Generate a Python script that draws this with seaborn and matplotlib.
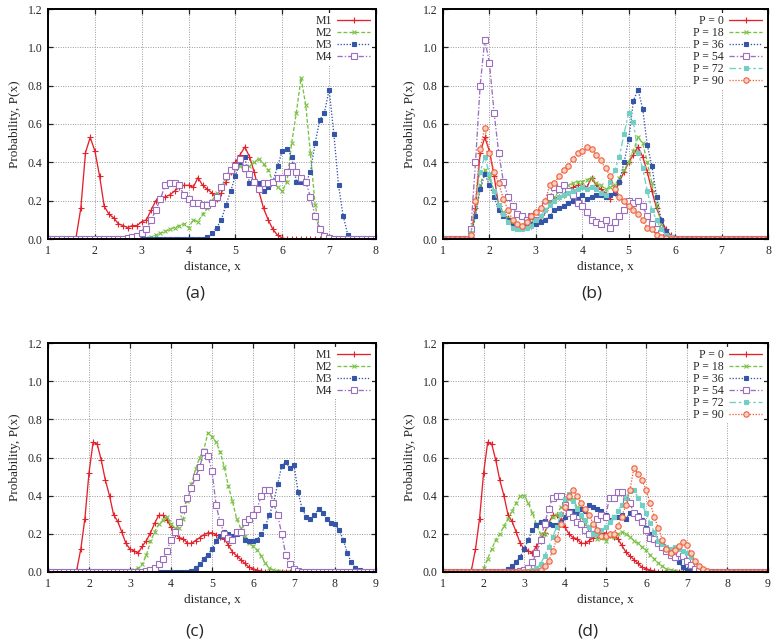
import matplotlib
matplotlib.use("Agg")
import matplotlib.pyplot as plt
import seaborn as sns
import numpy as np

STEP = 0.1

# ---- panel (a): x 1..8 ; each series = first x listed, values every 0.1, zero elsewhere
m1_a_start = 1.5
m1_a = [0, 0.01, 0.16, 0.45, 0.53, 0.46, 0.33, 0.17, 0.13, 0.11, 0.08, 0.07, 0.06, 0.07, 0.07,
        0.09, 0.10, 0.15, 0.20, 0.21, 0.22, 0.23, 0.25, 0.27, 0.28, 0.28, 0.27, 0.32, 0.28, 0.26,
        0.24, 0.21, 0.24, 0.30, 0.35, 0.40, 0.44, 0.48, 0.43, 0.35, 0.25, 0.16, 0.10, 0.05, 0.02, 0.005]
m2_a_start = 3.0
m2_a = [0, 0.005, 0.01, 0.02, 0.03, 0.04, 0.05, 0.06, 0.07, 0.08, 0.06, 0.10, 0.09, 0.13, 0.16,
        0.20, 0.24, 0.27, 0.32, 0.35, 0.37, 0.38, 0.36, 0.38, 0.40, 0.42, 0.39, 0.36, 0.30, 0.27,
        0.25, 0.30, 0.50, 0.66, 0.84, 0.70, 0.45, 0.18, 0.05, 0.02, 0.005]
m3_a_start = 4.3
m3_a = [0, 0.01, 0.03, 0.06, 0.10, 0.18, 0.25, 0.33, 0.40, 0.43, 0.29, 0.30, 0.29, 0.25, 0.27,
        0.30, 0.38, 0.46, 0.47, 0.43, 0.30, 0.30, 0.29, 0.35, 0.50, 0.62, 0.66, 0.78, 0.55, 0.28,
        0.12, 0.02]
m4_a_start = 2.6
m4_a = [0, 0.005, 0.01, 0.015, 0.03, 0.05, 0.10, 0.15, 0.21, 0.28, 0.29, 0.29, 0.28, 0.23, 0.21,
        0.19, 0.19, 0.18, 0.18, 0.19, 0.22, 0.27, 0.33, 0.36, 0.38, 0.42, 0.37, 0.34, 0.30, 0.26,
        0.29, 0.29, 0.30, 0.32, 0.32, 0.35, 0.38, 0.35, 0.32, 0.30, 0.22, 0.12, 0.05, 0.015, 0.005]

# ---- panel (b): x 1..8 (P = 0 is the M1 curve of panel a)
p18_b_start = 1.5
p18_b = [0, 0.02, 0.12, 0.28, 0.36, 0.32, 0.25, 0.18, 0.14, 0.11, 0.08, 0.07, 0.07, 0.08, 0.09,
         0.11, 0.13, 0.16, 0.20, 0.22, 0.25, 0.27, 0.28, 0.29, 0.30, 0.30, 0.31, 0.32, 0.29, 0.28,
         0.26, 0.27, 0.28, 0.32, 0.36, 0.40, 0.46, 0.53, 0.50, 0.40, 0.29, 0.18, 0.08, 0.03, 0.01]
p36_b_start = 1.5
p36_b = [0, 0.02, 0.12, 0.26, 0.34, 0.28, 0.22, 0.15, 0.12, 0.10, 0.07, 0.06, 0.06, 0.07, 0.08,
         0.08, 0.09, 0.10, 0.12, 0.15, 0.16, 0.17, 0.19, 0.20, 0.21, 0.23, 0.21, 0.22, 0.23, 0.23,
         0.22, 0.23, 0.24, 0.30, 0.40, 0.52, 0.72, 0.78, 0.68, 0.49, 0.38, 0.22, 0.10, 0.04, 0.01]
p54_b_start = 1.5
p54_b = [0, 0.05, 0.40, 0.80, 1.04, 0.92, 0.66, 0.45, 0.30, 0.22, 0.17, 0.13, 0.12, 0.10, 0.12,
         0.13, 0.14, 0.18, 0.22, 0.27, 0.26, 0.28, 0.25, 0.23, 0.19, 0.17, 0.14, 0.10, 0.09, 0.08,
         0.10, 0.06, 0.09, 0.12, 0.15, 0.20, 0.19, 0.20, 0.17, 0.12, 0.08, 0.05, 0.03, 0.01]
p72_b_start = 1.5
p72_b = [0, 0.03, 0.20, 0.35, 0.43, 0.34, 0.25, 0.18, 0.13, 0.09, 0.06, 0.05, 0.05, 0.06, 0.07,
         0.10, 0.12, 0.15, 0.18, 0.20, 0.22, 0.23, 0.24, 0.25, 0.26, 0.27, 0.26, 0.27, 0.26, 0.24,
         0.23, 0.30, 0.36, 0.43, 0.55, 0.66, 0.61, 0.45, 0.37, 0.25, 0.15, 0.10, 0.05, 0.02, 0.01]
p90_b_start = 1.5
p90_b = [0, 0.02, 0.20, 0.47, 0.58, 0.45, 0.35, 0.29, 0.21, 0.15, 0.10, 0.08, 0.07, 0.09, 0.12,
         0.14, 0.16, 0.20, 0.28, 0.29, 0.33, 0.36, 0.38, 0.42, 0.45, 0.46, 0.48, 0.47, 0.44, 0.41,
         0.37, 0.33, 0.26, 0.22, 0.20, 0.17, 0.15, 0.13, 0.10, 0.06, 0.05, 0.02, 0.01, 0.005]

# ---- panel (c): x 1..9
m1_c_start = 1.6
m1_c = [0, 0.01, 0.12, 0.28, 0.52, 0.68, 0.67, 0.585, 0.48, 0.40, 0.30, 0.265, 0.21, 0.15, 0.12,
        0.11, 0.10, 0.135, 0.165, 0.205, 0.255, 0.297, 0.297, 0.275, 0.235, 0.20, 0.18, 0.175,
        0.15, 0.15, 0.165, 0.18, 0.195, 0.205, 0.205, 0.195, 0.185, 0.175, 0.14, 0.105, 0.085,
        0.065, 0.045, 0.025, 0.017, 0.01, 0.005]
m2_c_start = 3.0
m2_c = [0, 0.01, 0.02, 0.04, 0.09, 0.16, 0.21, 0.25, 0.27, 0.29, 0.25, 0.23, 0.23, 0.28, 0.37,
        0.46, 0.54, 0.60, 0.64, 0.73, 0.71, 0.68, 0.63, 0.55, 0.45, 0.37, 0.28, 0.23, 0.19, 0.15,
        0.135, 0.115, 0.085, 0.045, 0.02, 0.01, 0.005]
m3_c_start = 4.4
m3_c = [0, 0.005, 0.02, 0.04, 0.07, 0.09, 0.12, 0.16, 0.19, 0.21, 0.20, 0.19, 0.20, 0.21, 0.17,
        0.16, 0.16, 0.17, 0.20, 0.24, 0.30, 0.36, 0.46, 0.555, 0.575, 0.545, 0.56, 0.42, 0.33,
        0.29, 0.28, 0.30, 0.33, 0.31, 0.28, 0.255, 0.25, 0.22, 0.17, 0.10, 0.05, 0.02, 0.01]
m4_c_start = 3.3
m4_c = [0, 0.005, 0.01, 0.02, 0.04, 0.07, 0.11, 0.17, 0.21, 0.26, 0.33, 0.39, 0.44, 0.50, 0.55,
        0.63, 0.61, 0.53, 0.35, 0.26, 0.20, 0.18, 0.17, 0.21, 0.21, 0.26, 0.28, 0.30, 0.33, 0.40,
        0.43, 0.43, 0.36, 0.30, 0.20, 0.09, 0.04, 0.015, 0.005]

# ---- panel (d): x 1..9 (P = 0 is the M1 curve of panel c)
p18_d_start = 1.9
p18_d = [0, 0.02, 0.07, 0.12, 0.17, 0.20, 0.24, 0.28, 0.32, 0.36, 0.40, 0.40, 0.36, 0.31, 0.25,
         0.20, 0.20, 0.25, 0.29, 0.30, 0.34, 0.37, 0.385, 0.385, 0.34, 0.29, 0.25, 0.23, 0.20,
         0.175, 0.18, 0.165, 0.19, 0.185, 0.20, 0.21, 0.20, 0.185, 0.165, 0.15, 0.13, 0.115,
         0.087, 0.07, 0.047, 0.03, 0.017, 0.009, 0.005]
p36_d_start = 2.4
p36_d = [0, 0.005, 0.015, 0.03, 0.05, 0.08, 0.12, 0.17, 0.22, 0.245, 0.26, 0.265, 0.25, 0.245,
         0.245, 0.26, 0.29, 0.32, 0.32, 0.31, 0.33, 0.32, 0.35, 0.34, 0.33, 0.32, 0.30, 0.27, 0.29,
         0.29, 0.30, 0.28, 0.31, 0.31, 0.30, 0.27, 0.23, 0.20, 0.18, 0.16, 0.135, 0.115, 0.09,
         0.075, 0.05, 0.025, 0.012, 0.005]
p54_d_start = 2.8
p54_d = [0, 0.005, 0.01, 0.02, 0.05, 0.10, 0.17, 0.25, 0.33, 0.39, 0.40, 0.40, 0.35, 0.31, 0.29,
         0.26, 0.25, 0.22, 0.20, 0.23, 0.28, 0.30, 0.29, 0.39, 0.39, 0.42, 0.42, 0.37, 0.36, 0.31,
         0.29, 0.26, 0.22, 0.18, 0.175, 0.15, 0.13, 0.11, 0.09, 0.08, 0.10, 0.085, 0.06, 0.035,
         0.015, 0.005]
p72_d_start = 3.0
p72_d = [0, 0.005, 0.01, 0.02, 0.04, 0.085, 0.13, 0.185, 0.235, 0.305, 0.385, 0.41, 0.37, 0.33,
         0.30, 0.27, 0.235, 0.20, 0.20, 0.22, 0.235, 0.26, 0.29, 0.32, 0.35, 0.39, 0.425, 0.43,
         0.39, 0.35, 0.31, 0.255, 0.21, 0.165, 0.145, 0.13, 0.12, 0.13, 0.12, 0.11, 0.10, 0.08,
         0.05, 0.03, 0.01, 0.005]
p90_d_start = 3.3
p90_d = [0, 0.01, 0.03, 0.06, 0.11, 0.175, 0.25, 0.34, 0.40, 0.43, 0.40, 0.36, 0.33, 0.30, 0.25,
         0.22, 0.19, 0.19, 0.20, 0.20, 0.24, 0.29, 0.35, 0.43, 0.545, 0.515, 0.48, 0.43, 0.36,
         0.29, 0.23, 0.17, 0.12, 0.10, 0.115, 0.135, 0.155, 0.14, 0.10, 0.06, 0.03, 0.015, 0.005]

m_labels = ["M1", "M2", "M3", "M4"]
p_labels = ["P = 0", "P = 18", "P = 36", "P = 54", "P = 72", "P = 90"]
y_ticks = [0.0, 0.2, 0.4, 0.6, 0.8, 1.0, 1.2]

RED, GREEN, BLUE, PURPLE, CYAN, ORANGE = "#e4222b", "#79c143", "#3556a8", "#9b6fbd", "#72cfc5", "#f0603a"
styles = [
    dict(color=RED, linestyle="-", marker="+", markersize=5, markerfacecolor=RED),
    dict(color=GREEN, linestyle=(0, (3, 1.5)), marker="x", markersize=3.3, markerfacecolor=GREEN),
    dict(color=BLUE, linestyle=(0, (1, 1.3)), marker="s", markersize=2.7, markerfacecolor=BLUE),
    dict(color=PURPLE, linestyle=(0, (4, 1.5, 1, 1.5)), marker="s", markersize=4.0, markerfacecolor="white"),
    dict(color=CYAN, linestyle=(0, (5, 2, 2, 2)), marker="s", markersize=2.7, markerfacecolor=CYAN),
    dict(color=ORANGE, linestyle=(0, (1, 1.2)), marker="o", markersize=3.9, markerfacecolor="#fbd0c4"),
]


def series(start, vals, xmax):
    n = int(round((xmax - 1.0) / STEP)) + 1
    x = np.round(1.0 + STEP * np.arange(n), 2)
    y = np.zeros(n)
    i0 = int(round((start - 1.0) / STEP))
    y[i0:i0 + len(vals)] = vals
    return x, y


sns.set_style("ticks")
plt.rcParams["font.family"] = ["Liberation Serif", "DejaVu Serif"]
plt.rcParams["xtick.direction"] = "in"
plt.rcParams["ytick.direction"] = "in"

fig = plt.figure(figsize=(7.79, 6.44), dpi=100)
W, H = 779.0, 644.0
pos = {
    "a": [48 / W, 1 - 239 / H, 328 / W, 230 / H],
    "b": [443 / W, 1 - 239 / H, 325 / W, 230 / H],
    "c": [48 / W, 1 - 572 / H, 328 / W, 229 / H],
    "d": [443 / W, 1 - 572 / H, 325 / W, 229 / H],
}
panels = {
    "a": (8, m_labels, [(m1_a_start, m1_a), (m2_a_start, m2_a), (m3_a_start, m3_a), (m4_a_start, m4_a)]),
    "b": (8, p_labels, [(m1_a_start, m1_a), (p18_b_start, p18_b), (p36_b_start, p36_b),
                        (p54_b_start, p54_b), (p72_b_start, p72_b), (p90_b_start, p90_b)]),
    "c": (9, m_labels, [(m1_c_start, m1_c), (m2_c_start, m2_c), (m3_c_start, m3_c), (m4_c_start, m4_c)]),
    "d": (9, p_labels, [(m1_c_start, m1_c), (p18_d_start, p18_d), (p36_d_start, p36_d),
                        (p54_d_start, p54_d), (p72_d_start, p72_d), (p90_d_start, p90_d)]),
}
tag_pos = {"a": (195, 294), "b": (592, 294), "c": (195, 632), "d": (588, 632)}

for key, (xmax, labels, data) in panels.items():
    ax = fig.add_axes(pos[key])
    for lab, (start, vals), st in zip(labels, data, styles):
        x, y = series(start, vals, xmax)
        sns.lineplot(x=x, y=y, ax=ax, label=lab, linewidth=0.95, markeredgecolor=st["color"],
                     markeredgewidth=0.8, **st)
    ax.set_xlim(1, xmax)
    ax.set_ylim(0, 1.2)
    ax.set_xticks(range(1, xmax + 1))
    ax.set_yticks(y_ticks)
    ax.set_yticklabels(["%.1f" % v for v in y_ticks])
    ax.grid(True, color="#9a9a9a", linestyle=(0, (1, 1.5)), linewidth=0.7)
    ax.set_axisbelow(True)
    for s in ax.spines.values():
        s.set_linewidth(1.4)
        s.set_color("black")
    ax.tick_params(which="both", top=True, right=True, length=3.5, width=0.9,
                   labelsize=8.5, pad=4)
    ax.set_xlabel("distance, x", fontsize=9.5, labelpad=3)
    ax.set_ylabel("Probability, P(x)", fontsize=9.5, labelpad=5)
    leg = ax.legend(loc="upper right", markerfirst=False, fontsize=8.5, handlelength=2.8,
                    handletextpad=0.45, labelspacing=0.0, borderpad=0.15, borderaxespad=0.35,
                    frameon=True, fancybox=False, framealpha=1.0, edgecolor="none",
                    facecolor="white")
    tx, ty = tag_pos[key]
    fig.text(tx / W, 1 - ty / H, "(%s)" % key, ha="center", va="center", fontsize=12.5,
             family=["Open Sans", "DejaVu Sans"])

fig.savefig("out.png", dpi=100)
